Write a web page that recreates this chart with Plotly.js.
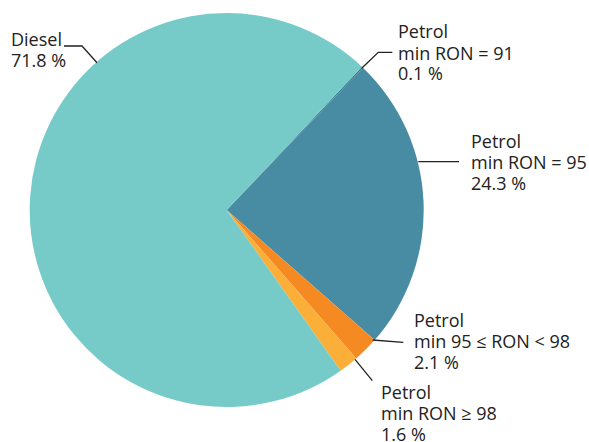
<!DOCTYPE html>
<html>
<head>
<meta charset="utf-8">
<script src="https://cdn.plot.ly/plotly-3.0.1.min.js"></script>
<style>
  body { margin: 0; background: #fff; }
  #chart { width: 589px; height: 442px; }
</style>
</head>
<body>
<div id="chart"></div>
<script>
// fuel types and their share (%)
var fuels = ['Petrol<br>min RON = 91', 'Petrol<br>min RON = 95', 'Petrol<br>min 95 ≤ RON < 98', 'Petrol<br>min RON ≥ 98', 'Diesel'];
var shares = [0.1, 24.3, 2.1, 1.6, 71.8];
var colours = ['#2f6f86', '#478ca2', '#f58a23', '#fbae38', '#76cbc8'];

var W = 589, H = 442;
var lineGap = 21;
// pixel -> paper helpers
function px(x) { return x / W; }
function py(y) { return 1 - y / H; }

// label position (left edge, centre of first line, px) and leader line points (px), one per slice
var labelPos = [[397, 31.5], [470, 141], [413, 319.5], [380, 392], [10, 39]];
var leaders = [
    [[361.7, 68.3], [378.3, 52.3], [392.3, 52.3]],
    [[418.3, 161.7], [459, 161.7]],
    [[372.7, 340], [403.3, 342.3]],
    [[355, 359.3], [372.3, 380.7]],
    [[97, 62.7], [82, 46], [64, 46]]
];

var trace = {
    type: 'pie',
    labels: fuels,
    values: shares,
    sort: false,
    direction: 'clockwise',
    rotation: 43.4,
    marker: { colors: colours, line: { width: 0 } },
    textinfo: 'none',
    hoverinfo: 'none',
    domain: { x: [px(29.7), px(423.7)], y: [py(407), py(13)] }
};

// one annotation per text line so the line spacing can follow the reference
var annotations = [];
fuels.forEach(function(f, i) {
    var lines = f.split('<br>').concat([shares[i].toFixed(1) + ' %']);
    lines.forEach(function(t, k) {
        annotations.push({
            xref: 'paper', yref: 'paper',
            x: px(labelPos[i][0]), y: py(labelPos[i][1] + k * lineGap),
            xanchor: 'left', yanchor: 'middle', align: 'left',
            height: 18, valign: 'middle', borderpad: 0,
            text: t,
            showarrow: false,
            font: { family: 'Open Sans', size: 18, color: '#222' }
        });
    });
});

var shapes = leaders.map(function(pts) {
    var path = pts.map(function(p, j) {
        return (j === 0 ? 'M ' : 'L ') + px(p[0]) + ',' + py(p[1]);
    }).join(' ');
    return {
        type: 'path', xref: 'paper', yref: 'paper', path: path,
        line: { color: '#222', width: 1.3 }
    };
});

var layout = {
    width: W,
    height: H,
    margin: { l: 0, r: 0, t: 0, b: 0 },
    showlegend: false,
    paper_bgcolor: '#fff',
    annotations: annotations,
    shapes: shapes
};

Plotly.newPlot('chart', [trace], layout, { displayModeBar: false, staticPlot: true });
</script>
</body>
</html>
